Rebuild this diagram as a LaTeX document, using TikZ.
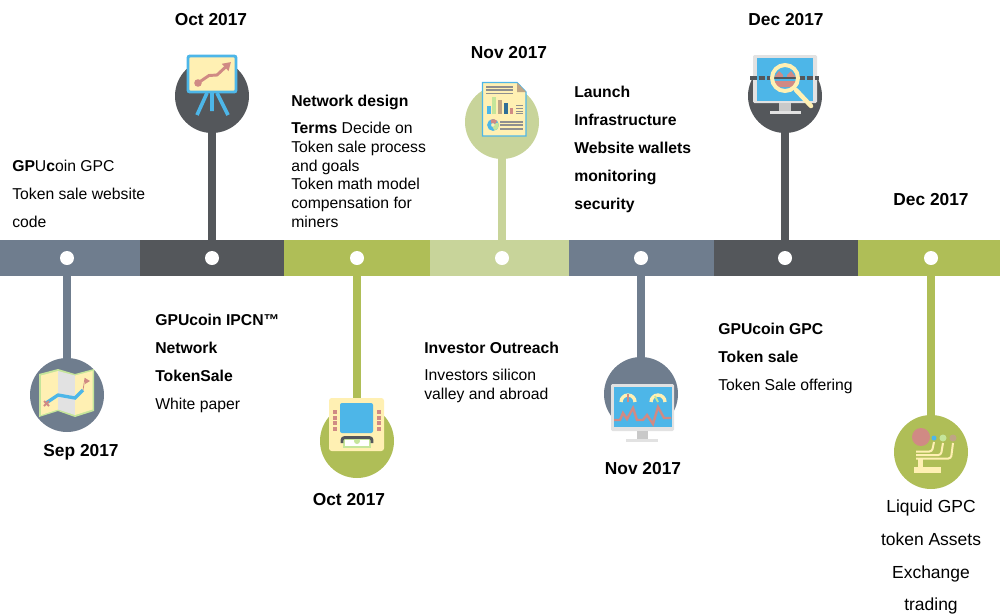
\documentclass[tikz,border=0pt]{standalone}
\usepackage{fontspec}
\setmainfont{Liberation Sans}
\usepackage{tikz}
\usetikzlibrary{arrows.meta}
\definecolor{slatebar}{HTML}{6F7D8E}
\definecolor{darkbar}{HTML}{54575B}
\definecolor{olivebar}{HTML}{AFBE57}
\definecolor{palebar}{HTML}{C8D49A}
\definecolor{iconblue}{HTML}{4DB6E8}
\definecolor{iconcream}{HTML}{FFF0B3}
\definecolor{iconred}{HTML}{D08A84}
\definecolor{icongreen}{HTML}{C5E59A}
\definecolor{icongrey}{HTML}{E2E2E2}
\definecolor{icontan}{HTML}{BFA585}
\definecolor{iconnavy}{HTML}{2F6F96}
\definecolor{iconline}{HTML}{8F8F8F}

\begin{document}
\begin{tikzpicture}[x=0.75pt, y=-0.75pt,
  pin/.style={circle, inner sep=0pt, minimum size=55.5pt},
  dotmark/.style={circle, fill=white, inner sep=0pt, minimum size=10.5pt},
  stem/.style={line width=6pt, shorten >=-2pt},
  datelabel/.style={font=\fontsize{13}{16}\selectfont\bfseries, inner sep=0pt},
  body/.style={font=\fontsize{11.8}{14}\selectfont, align=left, anchor=north west, inner sep=0pt},
  widebody/.style={font=\fontsize{11.8}{21}\selectfont, align=left, anchor=north west, inner sep=0pt}]
 \useasboundingbox (0,0) rectangle (1000,615);

 \foreach \xa/\xb/\col in {0/140/slatebar, 140/284/darkbar, 284/430/olivebar, 430/569/palebar, 569/714/slatebar, 714/858/darkbar, 858/1000/olivebar}{
   \fill[\col] (\xa,240) rectangle (\xb,276);
 }

 \foreach \n/\xp/\yp/\col in {1/67/395/slatebar, 2/212/96/darkbar, 3/357/441/olivebar, 4/502/122/palebar, 5/641/394/slatebar, 6/785/96/darkbar, 7/931/452/olivebar}{
   \node[pin, fill=\col] (pin\n) at (\xp,\yp) {};
   \node[dotmark] (dot\n) at (\xp,258) {};
   \draw[stem, \col] (dot\n) -- (pin\n);
 }

 \node[datelabel] (date1) at (81,452) {Sep 2017};
 \node[datelabel] (date2) at (211,20) {Oct 2017};
 \node[datelabel] (date3) at (349,500) {Oct 2017};
 \node[datelabel] (date4) at (509,53) {Nov 2017};
 \node[datelabel] (date5) at (643,469) {Nov 2017};
 \node[datelabel] (date6) at (786,20) {Dec 2017};
 \node[datelabel] (date7) at (931,200) {Dec 2017};

 \node[widebody] (text1) at (12,160) {\textbf{GP}U\textbf{c}oin GPC\\Token sale website\\code};
 \node[widebody] (text2) at (155,314) {\textbf{GPUcoin IPCN™}\\\textbf{Network}\\\textbf{TokenSale}\\White paper};
 \node[body] (text3) at (291,95) {\textbf{Network design}\\[6.3pt]\textbf{Terms} Decide on\\Token sale process\\and goals\\Token math model\\compensation for\\miners};
 \node[body] (text4) at (424,342) {\textbf{Investor Outreach}\\[6.3pt]Investors silicon\\valley and abroad};
 \node[widebody] (text5) at (574,86) {\textbf{Launch}\\\textbf{Infrastructure}\\\textbf{Website wallets}\\\textbf{monitoring}\\\textbf{security}};
 \node[widebody] (text6) at (718,323) {\textbf{GPUcoin GPC}\\\textbf{Token sale}\\Token Sale offering};
 \node[font=\fontsize{13.1}{24.4}\selectfont, align=center, anchor=north, inner sep=0pt] (text7) at (931,500) {Liquid GPC\\token Assets\\Exchange\\trading};

 \fill[icongreen] (39,374) -- (58,369) -- (75,374) -- (94,369) -- (94,411) -- (75,417) -- (58,411) -- (39,417) -- cycle;
 \fill[iconcream] (41,375.5) -- (58,371) -- (58,409.5) -- (41,415) -- cycle;
 \fill[icongrey] (58,371) -- (75,375.5) -- (75,415) -- (58,409.5) -- cycle;
 \fill[iconcream] (75,375.5) -- (92.5,371) -- (92.5,409.5) -- (75,415) -- cycle;
 \draw[iconblue, line width=2.5pt] (46,403) -- (58,395) -- (75,398) -- (83,390);
 \draw[iconred, line width=1.4pt] (44,401) -- (49,406) (49,401) -- (44,406);
 \draw[iconred, line width=0.6pt] (83,390) -- (85,378);
 \fill[iconred] (85,378) -- (90,381) -- (85,384) -- cycle;

 \draw[iconblue, line width=2.2pt, fill=iconcream, rounded corners=1.5pt] (188,56) rectangle (236,92);
 \draw[iconblue, line width=2.7pt] (212,92) -- (212,111) (207,93) -- (197,115) (217,93) -- (228,115);
 \fill[iconred] (198,83) circle (3.8);
 \draw[iconred, line width=2.2pt, -{Triangle[length=6pt, width=7pt]}] (198,83) -- (209,75.5) -- (217,75) -- (231,62);

 \fill[iconcream, rounded corners=2pt] (329,398) rectangle (384,451);
 \fill[iconblue, rounded corners=1.5pt] (340,403) rectangle (373,433);
 \foreach \yb in {412,418,423,429}{
   \fill[iconred] (333,\yb-2) rectangle (337,\yb+2);
   \fill[iconred] (377,\yb-2) rectangle (381,\yb+2);
 }
 \fill[white] (344,439) rectangle (370,447);
 \draw[icongreen, line width=0.8pt] (344,439) rectangle (370,447);
 \fill[icongreen] (357,441) circle (3);
 \draw[darkbar, line width=2.2pt, rounded corners=2pt] (342,443) -- (342,437.5) -- (372,437.5) -- (372,443);

 \draw[iconblue, line width=1pt, fill=iconcream] (482.5,82.5) -- (517,82.5) -- (526,92) -- (526,136) -- (482.5,136) -- cycle;
 \fill[icontan] (517,82.5) -- (526,92) -- (517,92) -- cycle;
 \foreach \yl in {87,90,93.5}{
   \draw[iconline, line width=0.9pt] (486,\yl) -- (513,\yl);
 }
 \fill[iconblue] (487,106) rectangle (491,114);
 \fill[icongreen] (492,97) rectangle (496,114);
 \fill[icontan] (498,100) rectangle (502,114);
 \fill[iconnavy] (504,103) rectangle (508,114);
 \fill[iconred] (510,108) rectangle (513,114);
 \foreach \yl in {105,108,111,113.5}{
   \draw[iconline, line width=0.6pt] (516,\yl) -- (523,\yl);
 }
 \draw[iconblue, line width=2.7pt] (493,125) circle (4);
 \draw[icongreen, line width=2.7pt] (493,125) ++(-30:4) arc (-30:80:4);
 \draw[iconred, line width=2.7pt] (493,125) ++(-120:4) arc (-120:-40:4);
 \foreach \yl in {122,125,129}{
   \draw[iconline, line width=0.9pt] (500,\yl) -- (523,\yl);
 }

 \fill[icongrey, rounded corners=1pt] (611,384) rectangle (674,431);
 \fill[iconblue] (613.5,387) rectangle (672,427);
 \fill[icongrey!70!iconline] (637,431) rectangle (648,439);
 \fill[icongrey] (626,439) rectangle (658,442);
 \draw[iconcream, line width=2.5pt] (621,402) arc (180:360:7) (651,402) arc (180:360:7);
 \draw[iconred, line width=1.4pt] (628,402) -- (628,394);
 \draw[icongreen, line width=1.4pt] (658,402) -- (655,396);
 \draw[iconred, line width=1.8pt] (614,420) -- (620,420) -- (623,413) -- (627,419) -- (633,408) -- (637,420) -- (643,420) -- (647,415) -- (653,424) -- (658,407) -- (664,418) -- (671,418);

 \fill[icongrey, rounded corners=1pt] (753,55) rectangle (817,103);
 \fill[iconblue] (757,58) rectangle (813,101);
 \fill[icongrey!70!iconline] (779,103) rectangle (791,111);
 \fill[icongrey] (770,111) rectangle (801,114);
 \draw[darkbar, line width=3pt, dash pattern=on 5pt off 1.5pt] (750,78) -- (772,78) (798,78) -- (819,78);
 \fill[iconred] (773,79) -- (779,71) -- (783,75) -- (783,77) -- cycle;
 \fill[iconred] (797,79) -- (791,71) -- (787,75) -- (787,77) -- cycle;
 \fill[iconred] (772,81) -- (798,81) -- (794,87) -- (776,87) -- cycle;
 \draw[darkbar, line width=2pt] (772,78) -- (798,78);
 \draw[iconcream, line width=3pt] (785,78) circle (13);
 \draw[iconcream, line width=3.4pt, line cap=round] (796,90) -- (811,106);

 \fill[iconred] (921,437) circle (9);
 \fill[iconblue] (934,438) circle (2.5);
 \fill[icongreen] (943,438) circle (3.5);
 \fill[icontan] (953,438) circle (3.5);
 \draw[iconcream, line width=1.5pt, rounded corners=2pt] (916,451.5) -- (932,451.5) -- (934,442);
 \draw[iconcream, line width=1.5pt, rounded corners=2pt] (916,455) -- (941,455) -- (943,443);
 \draw[iconcream, line width=1.5pt, rounded corners=2pt] (916,458.5) -- (951,458.5) -- (953,443);
 \fill[iconcream] (918,459) rectangle (923,467);
 \fill[iconcream] (914,467) rectangle (941,473);
\end{tikzpicture}
\end{document}
